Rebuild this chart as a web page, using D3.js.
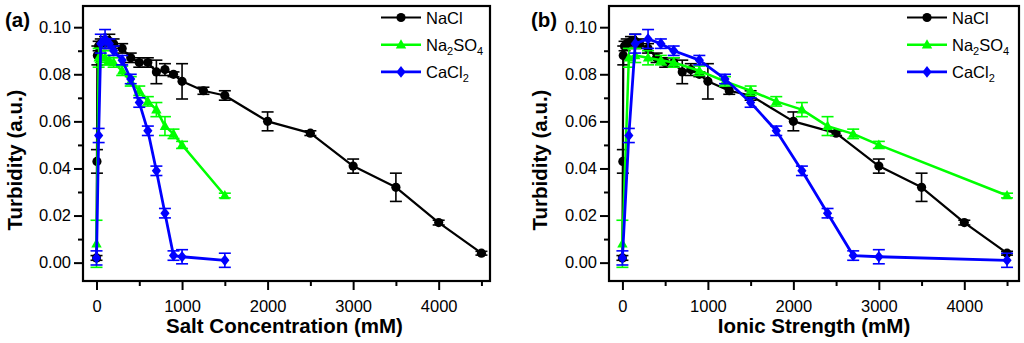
<!DOCTYPE html>
<html>
<head>
<meta charset="utf-8">
<script src="https://cdn.jsdelivr.net/npm/d3@7"></script>
<style>
  body { margin: 0; background: #fff; }
  svg text { font-family: "Liberation Sans", Arial, sans-serif; }
</style>
</head>
<body>
<div id="chart"></div>
<script>
// NaCl: concentration == ionic strength
const nacl_x = [0, 5, 10, 25, 50, 100, 150, 200, 300, 400, 500, 600, 700, 800, 900, 1000, 1250, 1500, 2000, 2500, 3000, 3500, 4000, 4500];
const nacl_y = [0.002, 0.043, 0.088, 0.092, 0.093, 0.094, 0.094, 0.093, 0.091, 0.087, 0.085, 0.085, 0.081, 0.082, 0.080, 0.077, 0.073, 0.071, 0.060, 0.055, 0.041, 0.032, 0.017, 0.004];
const nacl_e = [0.001, 0.005, 0.004, 0.002, 0.002, 0.002, 0.003, 0.002, 0.002, 0.002, 0.002, 0.002, 0.005, 0.0025, 0.001, 0.0075, 0.0015, 0.002, 0.004, 0.001, 0.003, 0.006, 0.001, 0.0008];

const na2so4_conc = [0, 25, 50, 100, 150, 200, 300, 400, 500, 600, 700, 800, 900, 1000, 1500];
const na2so4_ionic = [0, 75, 150, 300, 450, 600, 900, 1200, 1500, 1800, 2100, 2400, 2700, 3000, 4500];
const na2so4_y = [0.008, 0.087, 0.088, 0.087, 0.086, 0.085, 0.0815, 0.077, 0.073, 0.0685, 0.065, 0.058, 0.0547, 0.050, 0.0285];
const na2so4_e = [0.010, 0.004, 0.003, 0.003, 0.002, 0.002, 0.002, 0.002, 0.002, 0.002, 0.003, 0.004, 0.002, 0.0015, 0.001];

const cacl2_conc = [0, 25, 50, 100, 150, 200, 300, 400, 500, 600, 700, 800, 900, 1000, 1500];
const cacl2_ionic = [0, 75, 150, 300, 450, 600, 900, 1200, 1500, 1800, 2100, 2400, 2700, 3000, 4500];
const cacl2_y = [0.002, 0.054, 0.093, 0.095, 0.093, 0.090, 0.086, 0.078, 0.068, 0.056, 0.039, 0.021, 0.003, 0.0025, 0.001];
const cacl2_e = [0.003, 0.003, 0.004, 0.004, 0.002, 0.002, 0.002, 0.002, 0.002, 0.002, 0.002, 0.002, 0.002, 0.003, 0.003];

const x_major = [0, 1000, 2000, 3000, 4000];
const x_minor = [500, 1500, 2500, 3500, 4500];
const y_major = [0, 0.02, 0.04, 0.06, 0.08, 0.10];
const y_minor = [0.01, 0.03, 0.05, 0.07, 0.09];

const colorpel = { 'nacl': '#000000', 'na2so4': '#00ff00', 'cacl2': '#0000ff' };

let width = 1024, height = 343;

const svg = d3.select("#chart").append("svg")
    .attr("width", width).attr("height", height);

const zip = (xs, ys, es) => xs.map((x, i) => ({ x: x, y: ys[i], e: es[i] }));

// custom diamond + triangle, the d3 symbols are a bit narrow
const diamond = `M0,-5.8L4.6,0L0,5.8L-4.6,0Z`;
const triangle = `M0,-5.5L5.2,3.8L-5.2,3.8Z`;

const panel = (opt) => {
    let g = svg.append("g").attr("class", "panel");

    let x = d3.scaleLinear().domain(opt.xdom).range([opt.left, opt.right]);
    let y = d3.scaleLinear().domain([-0.0078, 0.109]).range([281, 6]);

    // frame
    g.append("rect")
        .attr("x", opt.left).attr("y", 6)
        .attr("width", opt.right - opt.left).attr("height", 275)
        .attr("fill", "none").attr("stroke", "#000").attr("stroke-width", 2.2);

    // axes
    let xa = g.append("g").attr("transform", `translate(0,281)`)
        .call(d3.axisBottom(x).tickValues(x_major).tickSize(9).tickPadding(10).tickFormat(d3.format("d")));
    xa.append("g").call(d3.axisBottom(x).tickValues(x_minor).tickSize(5).tickFormat(""));
    let ya = g.append("g").attr("transform", `translate(${opt.left},0)`)
        .call(d3.axisLeft(y).tickValues(y_major).tickSize(9).tickPadding(3).tickFormat(d3.format(".2f")));
    ya.append("g").call(d3.axisLeft(y).tickValues(y_minor).tickSize(5).tickFormat(""));

    g.selectAll(".domain").remove();
    g.selectAll(".tick line").attr("stroke", "#000").attr("stroke-width", 2);
    g.selectAll(".tick text").attr("fill", "#000").style("font-size", "16.5px")
        .style("font-family", '"Liberation Sans", Arial, sans-serif');

    // titles
    g.append("text")
        .attr("x", (opt.left + opt.right) / 2 + opt.xtOff).attr("y", 333)
        .attr("text-anchor", "middle")
        .style("font-size", "20.5px").style("font-weight", "bold")
        .text(opt.xtitle);
    g.append("text")
        .attr("transform", `translate(${opt.ytX},160) rotate(-90)`)
        .attr("text-anchor", "middle")
        .style("font-size", "20.5px").style("font-weight", "bold")
        .text("Turbidity (a.u.)");
    g.append("text")
        .attr("x", opt.tagX).attr("y", 27)
        .style("font-size", "20.5px").style("font-weight", "bold")
        .text(opt.tag);

    const line = d3.line().x(d => x(d.x)).y(d => y(d.y));

    opt.series.forEach(s => {
        let sg = g.append("g").attr("class", "series");
        sg.append("path").datum(s.data)
            .attr("d", line).attr("fill", "none")
            .attr("stroke", s.color).attr("stroke-width", s.lw)
            .attr("stroke-linejoin", "round");

        let eb = sg.selectAll(".eb").data(s.data).enter().append("g").attr("class", "eb")
            .attr("stroke", s.color).attr("stroke-width", 1.6);
        eb.append("line")
            .attr("x1", d => x(d.x)).attr("x2", d => x(d.x))
            .attr("y1", d => y(d.y + d.e)).attr("y2", d => y(d.y - d.e));
        eb.append("line")
            .attr("x1", d => x(d.x) - 6).attr("x2", d => x(d.x) + 6)
            .attr("y1", d => y(d.y + d.e)).attr("y2", d => y(d.y + d.e));
        eb.append("line")
            .attr("x1", d => x(d.x) - 6).attr("x2", d => x(d.x) + 6)
            .attr("y1", d => y(d.y - d.e)).attr("y2", d => y(d.y - d.e));

        let mk = sg.selectAll(".mk").data(s.data).enter();
        if (s.shape === "circle") {
            mk.append("circle").attr("cx", d => x(d.x)).attr("cy", d => y(d.y))
                .attr("r", 4.6).attr("fill", s.color);
        } else {
            mk.append("path").attr("d", s.shape === "diamond" ? diamond : triangle)
                .attr("transform", d => `translate(${x(d.x)},${y(d.y)})`)
                .attr("fill", s.color);
        }
    });

    // legend
    let lg = g.append("g").attr("class", "legend");
    const rows = [
        { name: ["NaCl"], color: colorpel.nacl, shape: "circle", lw: 2.2 },
        { name: ["Na", "2", "SO", "4"], color: colorpel.na2so4, shape: "triangle", lw: 2.5 },
        { name: ["CaCl", "2"], color: colorpel.cacl2, shape: "diamond", lw: 2.8 }
    ];
    rows.forEach((r, i) => {
        let cy = 17.5 + i * 27.2;
        lg.append("line").attr("x1", opt.legX).attr("x2", opt.legX + 40)
            .attr("y1", cy).attr("y2", cy).attr("stroke", r.color).attr("stroke-width", r.lw);
        if (r.shape === "circle") {
            lg.append("circle").attr("cx", opt.legX + 20).attr("cy", cy).attr("r", 4.6).attr("fill", r.color);
        } else {
            lg.append("path").attr("d", r.shape === "diamond" ? diamond : triangle)
                .attr("transform", `translate(${opt.legX + 20},${cy})`).attr("fill", r.color);
        }
        let t = lg.append("text").attr("x", opt.legX + 45).attr("y", cy + 6)
            .style("font-size", "16.5px");
        r.name.forEach((p, j) => {
            let sub = j % 2 === 1;
            t.append("tspan").text(p)
                .attr("dy", j === 0 ? 0 : (sub ? 4 : -4))
                .style("font-size", sub ? "11px" : "16.5px");
        });
    });
};

panel({
    left: 83, right: 490, xdom: [-158, 4600],
    xtitle: "Salt Concentration (mM)", xtOff: -2, ytX: 22, tag: "(a)", tagX: 5, legX: 381,
    series: [
        { data: zip(nacl_x, nacl_y, nacl_e), color: colorpel.nacl, shape: "circle", lw: 2.2 },
        { data: zip(na2so4_conc, na2so4_y, na2so4_e), color: colorpel.na2so4, shape: "triangle", lw: 2.5 },
        { data: zip(cacl2_conc, cacl2_y, cacl2_e), color: colorpel.cacl2, shape: "diamond", lw: 2.8 }
    ]
});

panel({
    left: 609, right: 1019, xdom: [-157, 4640],
    xtitle: "Ionic Strength (mM)", xtOff: 0, ytX: 547, tag: "(b)", tagX: 531, legX: 907,
    series: [
        { data: zip(nacl_x, nacl_y, nacl_e), color: colorpel.nacl, shape: "circle", lw: 2.2 },
        { data: zip(na2so4_ionic, na2so4_y, na2so4_e), color: colorpel.na2so4, shape: "triangle", lw: 2.5 },
        { data: zip(cacl2_ionic, cacl2_y, cacl2_e), color: colorpel.cacl2, shape: "diamond", lw: 2.8 }
    ]
});
</script>
</body>
</html>
